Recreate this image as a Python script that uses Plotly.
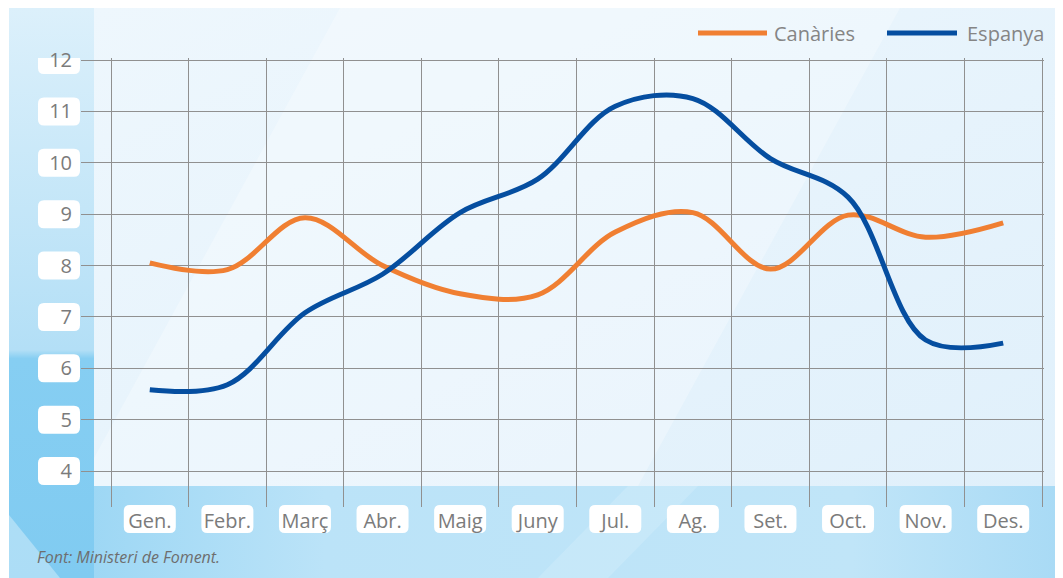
import base64
import plotly.graph_objects as go

# ---- data ----
months = ["Gen.", "Febr.", "Març", "Abr.", "Maig", "Juny", "Jul.", "Ag.", "Set.", "Oct.", "Nov.", "Des."]
canaries = [8.05, 7.92, 8.93, 8.00, 7.45, 7.43, 8.65, 9.03, 7.93, 8.98, 8.55, 8.83]
espanya = [5.58, 5.68, 7.08, 7.83, 9.03, 9.68, 11.10, 11.25, 10.08, 9.33, 6.55, 6.49]
y_ticks = [4, 5, 6, 7, 8, 9, 10, 11, 12]
series_names = ["Canàries", "Espanya"]
source_text = "Font: Ministeri de Foment."

# ---- style / geometry (figure pixels; page has an 8px body margin) ----
W, H = 1055, 570
ML, MR, MT, MB = 73, 19, 50, 71
ORANGE = "#f07f32"
BLUE = "#054ea0"
GRID = "#909090"
TXT = "#7b7b7b"
FONT = "Open Sans"

plot_w = W - ML - MR
plot_h = H - MT - MB
cell = 77.58
unit = 51.38
x_range = [-0.5 - 30 / cell, 11.5 + 2 / cell]
y_range = [4 - 36 / unit, 12 + 2 / unit]

# background artwork as svg (figure coordinates)
svg = f'''<svg xmlns="http://www.w3.org/2000/svg" width="{W}" height="{H}" viewBox="0 0 {W} {H}" preserveAspectRatio="none">
<defs>
<linearGradient id="lb" x1="0" y1="0" x2="0" y2="1">
<stop offset="0" stop-color="#dcf0fb"/><stop offset="0.6" stop-color="#b3dff6"/>
<stop offset="0.615" stop-color="#86cef2"/><stop offset="1" stop-color="#80cbf1"/></linearGradient>
<linearGradient id="bot" x1="0" y1="0" x2="1" y2="0">
<stop offset="0" stop-color="#93d3f3"/><stop offset="0.3" stop-color="#bbe3f8"/>
<stop offset="0.8" stop-color="#c0e5f8"/><stop offset="1" stop-color="#a8daf5"/></linearGradient>
<linearGradient id="pan" x1="0" y1="0" x2="1" y2="1">
<stop offset="0" stop-color="#eef7fd"/><stop offset="1" stop-color="#e0f0fb"/></linearGradient>
</defs>
<rect x="0" y="0" width="{W}" height="{H}" fill="#ffffff"/>
<rect x="1" y="0" width="{W-1}" height="{H}" fill="url(#bot)"/>
<rect x="1" y="0" width="85" height="{H}" fill="url(#lb)"/>
<polygon points="1,507 1,570 52,570" fill="#ffffff" opacity="0.35"/>
<rect x="86" y="0" width="{W-86}" height="478" fill="url(#pan)"/>
<polygon points="332,0 892,0 630,478 86,478 86,450" fill="#ffffff" opacity="0.28"/>
<polygon points="620,478 690,478 600,570 530,570" fill="#ffffff" opacity="0.15"/>
</svg>'''
svg_uri = "data:image/svg+xml;base64," + base64.b64encode(svg.encode("utf-8")).decode("ascii")

fig = go.Figure()
x_idx = list(range(len(months)))
fig.add_trace(go.Scatter(x=x_idx, y=canaries, name=series_names[0], mode="lines",
                         line=dict(color=ORANGE, width=5, shape="spline", smoothing=1.0),
                         showlegend=False, hoverinfo="skip"))
fig.add_trace(go.Scatter(x=x_idx, y=espanya, name=series_names[1], mode="lines",
                         line=dict(color=BLUE, width=5, shape="spline", smoothing=1.0),
                         showlegend=False, hoverinfo="skip"))


def rrect(w, h, r, cx=0.0, cy=0.0):
    x0, x1 = cx - w / 2, cx + w / 2
    y0, y1 = cy - h / 2, cy + h / 2
    return (f"M{x0+r},{y0} L{x1-r},{y0} Q{x1},{y0} {x1},{y0+r} L{x1},{y1-r} Q{x1},{y1} {x1-r},{y1} "
            f"L{x0+r},{y1} Q{x0},{y1} {x0},{y1-r} L{x0},{y0+r} Q{x0},{y0} {x0+r},{y0} Z")


shapes = []
# y label boxes (right edge just left of the plot area)
for v in y_ticks:
    shapes.append(dict(type="path", xref="paper", yref="y", xsizemode="pixel", ysizemode="pixel",
                       xanchor=0, yanchor=v, path=rrect(42, 28, 6, cx=-22),
                       fillcolor="white", line=dict(width=0), layer="below"))
# x label boxes
for i in x_idx:
    shapes.append(dict(type="path", xref="x", yref="paper", xsizemode="pixel", ysizemode="pixel",
                       xanchor=i, yanchor=0, path=rrect(52, 28, 6, cy=-12),
                       fillcolor="white", line=dict(width=0), layer="below"))
# manual legend swatches
legend_items = [(series_names[0], ORANGE, -346, -277, -272), (series_names[1], BLUE, -157, -87, -79)]
annotations = []
for name, col, sx0, sx1, tx in legend_items:
    shapes.append(dict(type="line", xref="paper", yref="paper", xsizemode="pixel", ysizemode="pixel",
                       xanchor=1, yanchor=1, x0=sx0, x1=sx1, y0=25, y1=25,
                       line=dict(color=col, width=5)))
    annotations.append(dict(text=name, xref="paper", yref="paper", x=1, y=1, xshift=tx, yshift=25,
                            xanchor="left", yanchor="middle", showarrow=False,
                            font=dict(family=FONT, size=20, color="#858585")))
annotations.append(dict(text=f"<i>{source_text}</i>", xref="paper", yref="paper", x=0, y=0,
                        xshift=-46, yshift=-50, xanchor="left", yanchor="middle", showarrow=False,
                        font=dict(family=FONT, size=16, color="#6e6e6e")))

fig.update_layout(
    width=W, height=H,
    margin=dict(l=ML, r=MR, t=MT, b=MB, pad=0),
    paper_bgcolor="white",
    plot_bgcolor="rgba(0,0,0,0)",
    showlegend=False,
    images=[dict(source=svg_uri, xref="paper", yref="paper",
                 x=-ML / plot_w, y=1 + MT / plot_h, sizex=W / plot_w, sizey=H / plot_h,
                 xanchor="left", yanchor="top", sizing="stretch", layer="below")],
    shapes=shapes,
    annotations=annotations,
    xaxis=dict(range=x_range, tickvals=x_idx, ticktext=months, showgrid=False, zeroline=False,
               showline=False, ticks="", ticklabelstandoff=0,
               tickfont=dict(family=FONT, size=20, color=TXT),
               minor=dict(tick0=-0.5, dtick=1, showgrid=True, gridcolor=GRID, gridwidth=1.3, ticks="")),
    yaxis=dict(range=y_range, tickvals=y_ticks, showgrid=True, gridcolor=GRID, gridwidth=1.3,
               zeroline=False, showline=False, ticks="", ticklabelstandoff=8,
               tickfont=dict(family=FONT, size=20, color=TXT)),
)

fig.write_html("out.html")
